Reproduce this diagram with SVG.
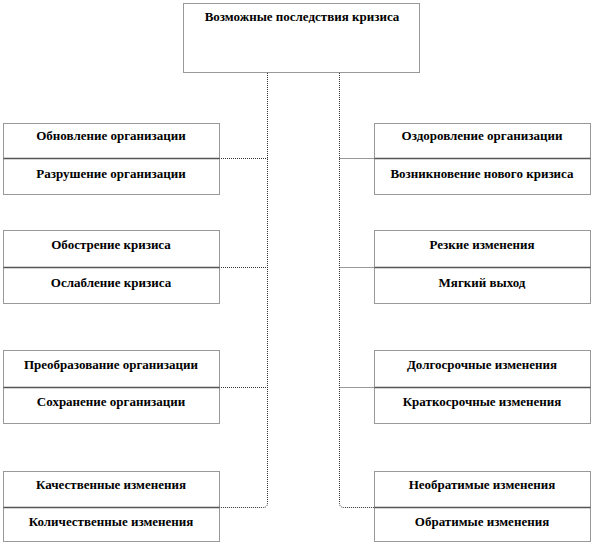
<svg xmlns="http://www.w3.org/2000/svg" width="593" height="546" viewBox="0 0 593 546">
<style>
.box{fill:#fff;stroke:#333;stroke-width:1;stroke-dasharray:1 1}
.div{stroke:#555;stroke-width:1.5}
.con{fill:none;stroke:#333;stroke-width:1;stroke-dasharray:1 1}
.t{font-family:'Liberation Serif','DejaVu Serif',serif;font-weight:bold;font-size:13px;fill:#000;text-anchor:middle}
</style>
<rect width="593" height="546" fill="#fff"/>
<g id="connectors">
<path class="con" d="M267.5 73 V503 Q267.5 507.5 263 507.5 H219"/>
<path class="con" d="M339.5 73 V503 Q339.5 507.5 344 507.5 H374"/>
<path class="con" d="M219 158.5 H267.5"/>
<path class="con" d="M219 267.5 H267.5"/>
<path class="con" d="M219 387.5 H267.5"/>
<path class="con" d="M339.5 158.5 H374"/>
<path class="con" d="M339.5 267.5 H374"/>
<path class="con" d="M339.5 387.5 H374"/>
</g>
<g id="root">
<rect class="box" x="183.5" y="3.5" width="236" height="69"/>
<text class="t" x="302" y="21">Возможные  последствия  кризиса</text>
</g>
<g id="l1">
<rect class="box" x="3.5" y="123.5" width="216" height="71"/>
<line class="div" x1="3.5" y1="158.5" x2="219.5" y2="158.5"/>
<text class="t" x="111" y="140">Обновление  организации</text>
<text class="t" x="111" y="178">Разрушение  организации</text>
</g>
<g id="r1">
<rect class="box" x="374.5" y="123.5" width="216" height="71"/>
<line class="div" x1="374.5" y1="158.5" x2="590.5" y2="158.5"/>
<text class="t" x="482" y="140">Оздоровление  организации</text>
<text class="t" x="482" y="178">Возникновение  нового кризиса</text>
</g>
<g id="l2">
<rect class="box" x="3.5" y="230.5" width="216" height="73"/>
<line class="div" x1="3.5" y1="267.5" x2="219.5" y2="267.5"/>
<text class="t" x="111" y="249">Обострение кризиса</text>
<text class="t" x="111" y="287">Ослабление  кризиса</text>
</g>
<g id="r2">
<rect class="box" x="374.5" y="230.5" width="216" height="73"/>
<line class="div" x1="374.5" y1="267.5" x2="590.5" y2="267.5"/>
<text class="t" x="482" y="249">Резкие изменения</text>
<text class="t" x="482" y="287">Мягкий выход</text>
</g>
<g id="l3">
<rect class="box" x="3.5" y="350.5" width="216" height="73"/>
<line class="div" x1="3.5" y1="387.5" x2="219.5" y2="387.5"/>
<text class="t" x="111" y="369">Преобразование организации</text>
<text class="t" x="111" y="406">Сохранение  организации</text>
</g>
<g id="r3">
<rect class="box" x="374.5" y="350.5" width="216" height="73"/>
<line class="div" x1="374.5" y1="387.5" x2="590.5" y2="387.5"/>
<text class="t" x="482" y="369">Долгосрочные изменения</text>
<text class="t" x="482" y="406">Краткосрочные изменения</text>
</g>
<g id="l4">
<rect class="box" x="3.5" y="471.5" width="216" height="70"/>
<line class="div" x1="3.5" y1="507.5" x2="219.5" y2="507.5"/>
<text class="t" x="111" y="489">Качественные  изменения</text>
<text class="t" x="111" y="526">Количественные  изменения</text>
</g>
<g id="r4">
<rect class="box" x="374.5" y="471.5" width="216" height="70"/>
<line class="div" x1="374.5" y1="507.5" x2="590.5" y2="507.5"/>
<text class="t" x="482" y="489">Необратимые изменения</text>
<text class="t" x="482" y="526">Обратимые изменения</text>
</g>
</svg>
